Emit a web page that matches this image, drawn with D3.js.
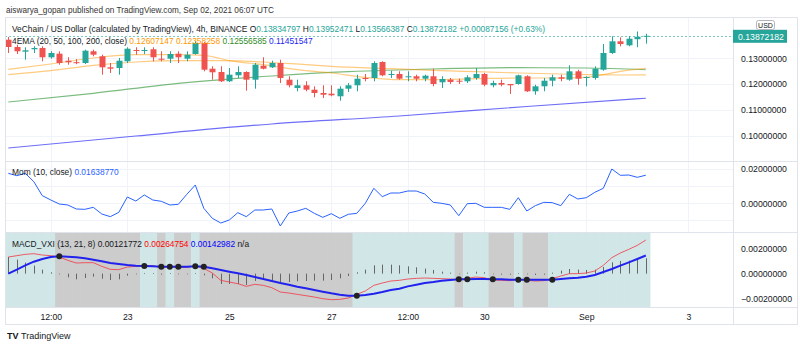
<!DOCTYPE html>
<html><head><meta charset="utf-8">
<script src="https://cdn.jsdelivr.net/npm/d3@7"></script>
<style>
html,body{margin:0;padding:0;background:#fff;}
svg{display:block;font-family:"Liberation Sans",Arial,sans-serif;}
</style></head>
<body><svg id="c" width="800" height="348"></svg>
<script>
// ---------------- DATA ----------------
const timeTickIdx = [5, 14, 26, 38, 47, 56, 68, 80];
const timeTickLabels = ["12:00", "23", "25", "27", "12:00", "30", "Sep", "3"];
const priceTicks = [0.10, 0.11, 0.12, 0.13];
const momTicks = [0.00, 0.02];
const macdTicks = [-0.002, 0.000, 0.002];

const open = [0.13721,0.13438,0.13256,0.1335,0.1340,0.13039,0.13179,0.12907,0.1285,0.12818,
0.13272,0.13078,0.12651,0.12624,0.12884,0.13322,0.13295,0.1335,0.12985,0.12985,
0.13179,0.12985,0.13167,0.13593,0.12597,0.12469,0.12109,0.12341,0.12469,0.12171,
0.12713,0.12651,0.12818,0.12171,0.11849,0.11954,0.11783,0.11655,0.11628,0.11528,
0.11822,0.11954,0.12237,0.12237,0.12857,0.12365,0.12392,0.12264,0.12303,0.12209,
0.12303,0.1207,0.12171,0.12132,0.12109,0.12237,0.12392,0.11954,0.12043,0.12004,
0.12004,0.12303,0.11721,0.11915,0.12132,0.12264,0.12171,0.12496,0.12248,0.12237,
0.12558,0.13206,0.13659,0.13504,0.1374,0.13834797];
const high = [0.13826,0.13527,0.13427,0.13465,0.13465,0.13272,0.13272,0.13039,0.1297,0.13334,
0.13334,0.1314,0.12818,0.13012,0.13427,0.13427,0.13427,0.13427,0.13272,0.13272,
0.13272,0.13272,0.13659,0.13632,0.1269,0.1269,0.12624,0.1269,0.12496,0.12818,
0.13039,0.12907,0.12946,0.12303,0.12171,0.12109,0.11915,0.11954,0.11954,0.11915,
0.12043,0.12365,0.12392,0.12884,0.12884,0.1252,0.12496,0.12496,0.12365,0.12365,
0.12597,0.12303,0.12237,0.12209,0.12341,0.12624,0.12431,0.12132,0.12171,0.12004,
0.12365,0.12341,0.11977,0.12237,0.12365,0.12365,0.12729,0.12558,0.12303,0.1269,
0.13555,0.13853,0.13814,0.13853,0.1404,0.13952471];
const low = [0.13206,0.13167,0.12946,0.13206,0.12884,0.12985,0.12752,0.12752,0.1277,0.12779,
0.13078,0.12365,0.12431,0.12365,0.12818,0.1314,0.13167,0.12884,0.12884,0.12818,
0.12818,0.12884,0.1314,0.12496,0.12171,0.12082,0.12082,0.12237,0.11745,0.11822,
0.1257,0.12624,0.12043,0.11876,0.11721,0.11721,0.11489,0.11462,0.11528,0.11357,
0.11694,0.11721,0.12109,0.12109,0.12303,0.12237,0.12171,0.12109,0.12109,0.12109,
0.11915,0.11849,0.12004,0.12004,0.12043,0.12171,0.11915,0.11876,0.11915,0.11617,
0.11977,0.11694,0.11589,0.11721,0.11915,0.12109,0.12132,0.11977,0.11915,0.12171,
0.1252,0.13167,0.13465,0.13465,0.1343,0.13566387];
const close = [0.13438,0.13272,0.1331,0.1340,0.13039,0.13206,0.12818,0.12845,0.1283,0.13295,
0.1314,0.12651,0.12597,0.12907,0.13372,0.13295,0.13322,0.13039,0.12946,0.13167,
0.13039,0.1314,0.13593,0.12558,0.12458,0.12109,0.12365,0.12469,0.12171,0.12752,
0.12597,0.12818,0.12237,0.11954,0.11954,0.11783,0.11655,0.11589,0.11566,0.11822,
0.11954,0.12209,0.12198,0.12818,0.12341,0.12392,0.12209,0.12303,0.12209,0.12326,
0.12004,0.12198,0.12082,0.12093,0.12264,0.12392,0.11977,0.12043,0.11977,0.11954,
0.12341,0.11721,0.11915,0.12132,0.12264,0.12209,0.12496,0.12209,0.12276,0.12597,
0.13206,0.13659,0.13555,0.1376,0.13835,0.13872182];

const ema20Idx = [0,5,10,15,20,23,26,30,35,38,42,46,50,55,60,65,68,70,72,75];
const ema20 = [0.12574,0.12779,0.13012,0.1314,0.1314,0.13117,0.12907,0.12752,0.1252,0.12431,0.12264,0.12171,0.12171,0.1221,0.12237,0.12237,0.12264,0.12365,0.12496,0.12607147];
const ema50Idx = [0,5,10,15,20,25,30,35,38,45,50,55,60,65,68,72,75];
const ema50 = [0.12365,0.1252,0.12729,0.12857,0.12907,0.12907,0.12857,0.12752,0.1269,0.12597,0.12535,0.12481,0.12431,0.12392,0.12365,0.12353,0.12358258];
const ema100Idx = [0,10,20,31,40,50,60,68,75];
const ema100 = [0.11307,0.11644,0.1203,0.12314,0.12481,0.12586,0.12636,0.12624,0.12556585];
const ema200Idx = [0,15,31,46,61,75];
const ema200 = [0.09524,0.09989,0.10454,0.10764,0.11132,0.11451547];

const mom = [0.01747,0.01611,0.01747,0.01261,0.00445,0.00192,-0.00041,-0.00099,-0.00332,-0.00352,
-0.00235,-0.00624,-0.00779,-0.00527,0.00367,0.00134,0.00484,0.00192,0.00115,-0.00099,
-0.0006,0.00523,0.01067,-0.00293,-0.00876,-0.01149,-0.00974,-0.00546,-0.00779,-0.00391,
-0.00391,-0.00332,-0.01323,-0.00566,-0.00449,-0.00293,-0.00585,-0.00818,-0.00604,-0.00876,
-0.00643,-0.00585,-0.00002,0.00873,0.00387,0.006,0.006,0.00717,0.00717,0.00542,
0.00056,-0.00002,-0.00099,-0.00721,-0.00021,-0.00002,-0.00235,-0.00235,-0.00235,-0.00352,
0.00328,-0.00449,-0.00138,0.00056,0.00037,-0.00138,0.00523,0.00251,0.00328,0.0064,
0.00873,0.02,0.01631,0.0165,0.01514,0.0163877];

const macdLine = [0.001312,0.001418,0.001523,0.001576,0.00147,0.001418,0.001312,0.001049,0.000839,0.000866,
0.000866,0.000576,0.000339,0.000313,0.000523,0.000576,0.000655,0.000629,0.000471,0.000602,
0.000497,0.000497,0.000629,0.000418,0.00005,-0.000529,-0.00066,-0.000791,-0.001002,-0.000844,
-0.000923,-0.001107,-0.001449,-0.001528,-0.001633,-0.001738,-0.001844,-0.001975,-0.002054,-0.002028,
-0.001923,-0.001633,-0.00137,-0.000923,-0.000739,-0.000581,-0.000529,-0.000424,-0.000371,-0.000345,
-0.000371,-0.000397,-0.000424,-0.000502,-0.000371,-0.000266,-0.000318,-0.000502,-0.000529,-0.000555,
-0.000424,-0.000529,-0.000581,-0.000555,-0.000397,-0.000187,-0.000002,0.0,0.00005,0.000208,
0.000655,0.00126,0.001628,0.001917,0.002233,0.00264754];
const signalLine = [-0.000002,0.000313,0.000655,0.000944,0.001155,0.001312,0.001365,0.001339,0.001286,0.001207,
0.001102,0.000971,0.000839,0.00076,0.000681,0.000629,0.000602,0.000576,0.00055,0.00055,
0.00055,0.00055,0.000576,0.00055,0.000418,0.000287,0.000155,0.000024,-0.000108,-0.000266,
-0.000424,-0.000581,-0.000739,-0.00087,-0.001028,-0.00116,-0.001291,-0.001423,-0.001554,-0.001659,
-0.001738,-0.001738,-0.001686,-0.00158,-0.001449,-0.001291,-0.001186,-0.001002,-0.00087,-0.000739,
-0.00066,-0.000555,-0.000502,-0.00045,-0.00045,-0.000424,-0.000424,-0.00045,-0.00045,-0.000476,
-0.000476,-0.000476,-0.000476,-0.000476,-0.000476,-0.000424,-0.000371,-0.000318,-0.000239,-0.000108,
0.000129,0.000365,0.000629,0.000892,0.001155,0.00142982];

// ---------------- LAYOUT ----------------
const svg = d3.select("#c");
const L = 5, R = 733, RR = 797;
const pTop = 17, pBot = 161, mTop = 161, mBot = 232, dTop = 232, dBot = 307, tBot = 324;
const N = close.length;
const idx = d3.range(N);

const x = d3.scaleLinear().domain([0, 80]).range([8.3, 688.3]);
const yP = d3.scaleLinear().domain([0.10, 0.13]).range([135.7, 58.3]);
const yM = d3.scaleLinear().domain([0, 0.02]).range([203.3, 169]);
const yD = d3.scaleLinear().domain([-0.002, 0.002]).range([299, 248.3]);

const UP = "#26a69a", DN = "#ef5350", TXT = "#131722", GRID = "#f0f3fa", BORDER = "#e0e3eb";
const FS = "8.4px", FA = "8.7px";

const defs = svg.append("defs");
[["cp", pTop, pBot], ["cm", mTop, mBot], ["cd", dTop, dBot]].forEach(([id, t, b]) => {
  defs.append("clipPath").attr("id", id).append("rect").attr("x", L).attr("y", t).attr("width", R - L).attr("height", b - t);
});

// header
svg.append("text").attr("x", 6).attr("y", 13).attr("font-size", "8.2px").attr("fill", "#333")
  .text("aiswarya_gopan published on TradingView.com, Sep 02, 2021 06:07 UTC");

// MACD background regions (by sign of histogram)
const hist = idx.map(i => macdLine[i] - signalLine[i]);
const gD = svg.append("g").attr("clip-path", "url(#cd)");
gD.selectAll("rect.bg").data(idx).join("rect").attr("class", "bg")
  .attr("x", i => i === 0 ? L : x(i - 0.5))
  .attr("width", i => (i === 0 ? x(0.5) - L : x(i + 0.5) - x(i - 0.5)) + 0.4)
  .attr("y", dTop).attr("height", dBot - dTop)
  .attr("fill", i => hist[i] >= 0 ? "#d1e7e7" : "#cccccc");

// grid lines
const grid = svg.append("g").attr("stroke", GRID).attr("stroke-width", 1);
timeTickIdx.forEach(t => {
  grid.append("line").attr("x1", Math.round(x(t)) + 0.5).attr("x2", Math.round(x(t)) + 0.5)
    .attr("y1", pTop).attr("y2", dTop);
});
priceTicks.forEach(v => grid.append("line").attr("x1", L).attr("x2", R).attr("y1", Math.round(yP(v)) + 0.5).attr("y2", Math.round(yP(v)) + 0.5));
momTicks.forEach(v => grid.append("line").attr("x1", L).attr("x2", R).attr("y1", Math.round(yM(v)) + 0.5).attr("y2", Math.round(yM(v)) + 0.5));
[0.01, -0.01].forEach(v => grid.append("line").attr("x1", L).attr("x2", R).attr("y1", Math.round(yM(v)) + 0.5).attr("y2", Math.round(yM(v)) + 0.5));

// ---------------- PRICE PANE ----------------
const gP = svg.append("g").attr("clip-path", "url(#cp)");
function emaLine(idxArr, vals, color, w) {
  const pts = idxArr.map((k, j) => [x(k), yP(vals[j])]);
  gP.append("path").attr("d", d3.line().curve(d3.curveMonotoneX)(pts))
    .attr("fill", "none").attr("stroke", color).attr("stroke-width", w);
}
emaLine(ema200Idx, ema200, "rgba(33,33,243,0.65)", 1.2);
emaLine(ema100Idx, ema100, "rgba(67,160,71,0.7)", 1.2);
emaLine(ema50Idx, ema50, "rgba(255,152,0,0.5)", 1.2);
emaLine(ema20Idx, ema20, "rgba(255,152,0,0.5)", 1.2);

const lastY = Math.round(yP(close[N - 1])) + 0.5;
svg.append("line").attr("x1", L).attr("x2", R).attr("y1", lastY).attr("y2", lastY)
  .attr("stroke", UP).attr("stroke-opacity", 0.6).attr("stroke-dasharray", "2,2");

const bw = 6;
const cg = gP.selectAll("g.c").data(idx).join("g").attr("class", "c");
cg.append("line")
  .attr("x1", i => Math.round(x(i)) + 0.5).attr("x2", i => Math.round(x(i)) + 0.5)
  .attr("y1", i => yP(high[i])).attr("y2", i => yP(low[i]))
  .attr("stroke", i => close[i] >= open[i] ? UP : DN).attr("stroke-width", 1);
cg.append("rect")
  .attr("x", i => Math.round(x(i)) + 0.5 - bw / 2).attr("width", bw)
  .attr("y", i => Math.min(yP(open[i]), yP(close[i])))
  .attr("height", i => Math.max(1, Math.abs(yP(open[i]) - yP(close[i]))))
  .attr("fill", i => close[i] >= open[i] ? UP : DN);

// legend price
const lg1 = svg.append("text").attr("x", 12).attr("y", 31.5).attr("font-size", FS).attr("fill", TXT);
lg1.append("tspan").text("VeChain / US Dollar (calculated by TradingView), 4h, BINANCE  ");
[["O", open[N-1]], ["H", high[N-1]], ["L", low[N-1]], ["C", close[N-1]]].forEach(([k, v]) => {
  lg1.append("tspan").attr("fill", TXT).text(k);
  lg1.append("tspan").attr("fill", UP).text(v.toFixed(8) + " ");
});
lg1.append("tspan").attr("fill", UP).text(" +0.00087156 (+0.63%)");

const lg2 = svg.append("text").attr("x", 12).attr("y", 43.5).attr("font-size", FS).attr("fill", TXT);
lg2.append("tspan").text("4EMA (20, 50, 100, 200, close)  ");
const emaLegend = [[ema20[ema20.length-1], "#ff9800"], [ema50[ema50.length-1], "#ff9800"], [ema100[ema100.length-1], "#2e8b1e"], [ema200[ema200.length-1], "#1e1ef0"]];
emaLegend.forEach(([v, c], j) => lg2.append("tspan").attr("fill", c).text(v.toFixed(8) + (j < 3 ? "  " : "")));

// ---------------- MOMENTUM PANE ----------------
const gM = svg.append("g").attr("clip-path", "url(#cm)");
gM.append("path").attr("d", d3.line().x(i => x(i)).y(i => yM(mom[i]))(idx))
  .attr("fill", "none").attr("stroke", "#2962ff").attr("stroke-width", 1);
const lg3 = svg.append("text").attr("x", 12).attr("y", 174.5).attr("font-size", FS).attr("fill", TXT);
lg3.append("tspan").text("Mom (10, close)  ");
lg3.append("tspan").attr("fill", "#2962ff").text(mom[N - 1].toFixed(8));

// ---------------- MACD PANE ----------------
gD.selectAll("line.h").data(idx).join("line").attr("class", "h")
  .attr("x1", i => Math.round(x(i)) + 0.5).attr("x2", i => Math.round(x(i)) + 0.5)
  .attr("y1", yD(0)).attr("y2", i => yD(hist[i]))
  .attr("stroke", "#666").attr("stroke-width", 1);
gD.append("path").attr("d", d3.line().x(i => x(i)).y(i => yD(macdLine[i]))(idx))
  .attr("fill", "none").attr("stroke", "#f23645").attr("stroke-opacity", 0.8).attr("stroke-width", 1);
gD.append("path").attr("d", d3.line().x(i => x(i)).y(i => yD(signalLine[i]))(idx))
  .attr("fill", "none").attr("stroke", "#2222ee").attr("stroke-width", 2);
const cross = idx.filter(i => i > 0 && (hist[i] >= 0) !== (hist[i - 1] >= 0));
gD.selectAll("circle").data(cross).join("circle")
  .attr("cx", i => x(i)).attr("cy", i => yD(signalLine[i])).attr("r", 3).attr("fill", "#222");
const lg4 = svg.append("text").attr("x", 12).attr("y", 247).attr("font-size", FS).attr("fill", TXT);
lg4.append("tspan").text("MACD_VXI (13, 21, 8)  ");
lg4.append("tspan").attr("fill", TXT).text(hist[N - 1].toFixed(8) + "  ");
lg4.append("tspan").attr("fill", "#ff0000").text(macdLine[N - 1].toFixed(8) + "  ");
lg4.append("tspan").attr("fill", "#0000ff").text(signalLine[N - 1].toFixed(8) + "  ");
lg4.append("tspan").attr("fill", TXT).text("n/a");

// ---------------- FRAME & SEPARATORS ----------------
const fr = svg.append("g").attr("stroke", BORDER).attr("fill", "none");
fr.append("rect").attr("x", L + 0.5).attr("y", pTop + 0.5).attr("width", RR - L).attr("height", tBot - pTop);
fr.append("line").attr("x1", R + 0.5).attr("x2", R + 0.5).attr("y1", pTop).attr("y2", tBot);
[mTop, dTop, dBot].forEach(yv => fr.append("line").attr("x1", L).attr("x2", RR).attr("y1", yv + 0.5).attr("y2", yv + 0.5));

// ---------------- AXES ----------------
function styleAxis(g) {
  g.select(".domain").remove();
  g.selectAll("text").attr("fill", TXT).attr("font-size", FA).attr("font-family", "Liberation Sans, Arial, sans-serif");
}
svg.append("g").attr("transform", `translate(${R},0)`)
  .call(d3.axisRight(yP).tickValues(priceTicks).tickFormat(d3.format(".8f")).tickSize(0).tickPadding(8)).call(styleAxis);
svg.append("g").attr("transform", `translate(${R},0)`)
  .call(d3.axisRight(yM).tickValues(momTicks).tickFormat(d3.format(".8f")).tickSize(0).tickPadding(8)).call(styleAxis);
svg.append("g").attr("transform", `translate(${R},0)`)
  .call(d3.axisRight(yD).tickValues(macdTicks).tickFormat(d => (d < 0 ? "\u22120" : "0") + d3.format(".8f")(Math.abs(d)).slice(1)).tickSize(0).tickPadding(8)).call(styleAxis);
svg.append("g").attr("transform", `translate(0,${dBot})`)
  .call(d3.axisBottom(x).tickValues(timeTickIdx).tickFormat((d, i) => timeTickLabels[i]).tickSize(0).tickPadding(7)).call(styleAxis);

// last price label
const lp = svg.append("g");
lp.append("rect").attr("x", R).attr("y", yP(close[N - 1]) - 6).attr("width", 54).attr("height", 13).attr("fill", UP);
lp.append("text").attr("x", R + 5).attr("y", yP(close[N - 1]) + 3.8).attr("font-size", FA).attr("fill", "#fff").text(close[N - 1].toFixed(8));
const usd = svg.append("g");
usd.append("rect").attr("x", 756.5).attr("y", 20.5).attr("width", 18).attr("height", 9).attr("rx", 2).attr("fill", "#fff").attr("stroke", "#b2b5be");
usd.append("text").attr("x", 765.5).attr("y", 27.8).attr("text-anchor", "middle").attr("font-size", "7px").attr("fill", TXT).text("USD");

// logo
const logo = svg.append("g");
logo.append("text").attr("x", 7).attr("y", 339).attr("font-size", "9px").attr("font-weight", "bold").attr("fill", "#131722").text("TV");
logo.append("text").attr("x", 21).attr("y", 339).attr("font-size", "9px").attr("fill", "#131722").text("TradingView");
</script></body></html>
